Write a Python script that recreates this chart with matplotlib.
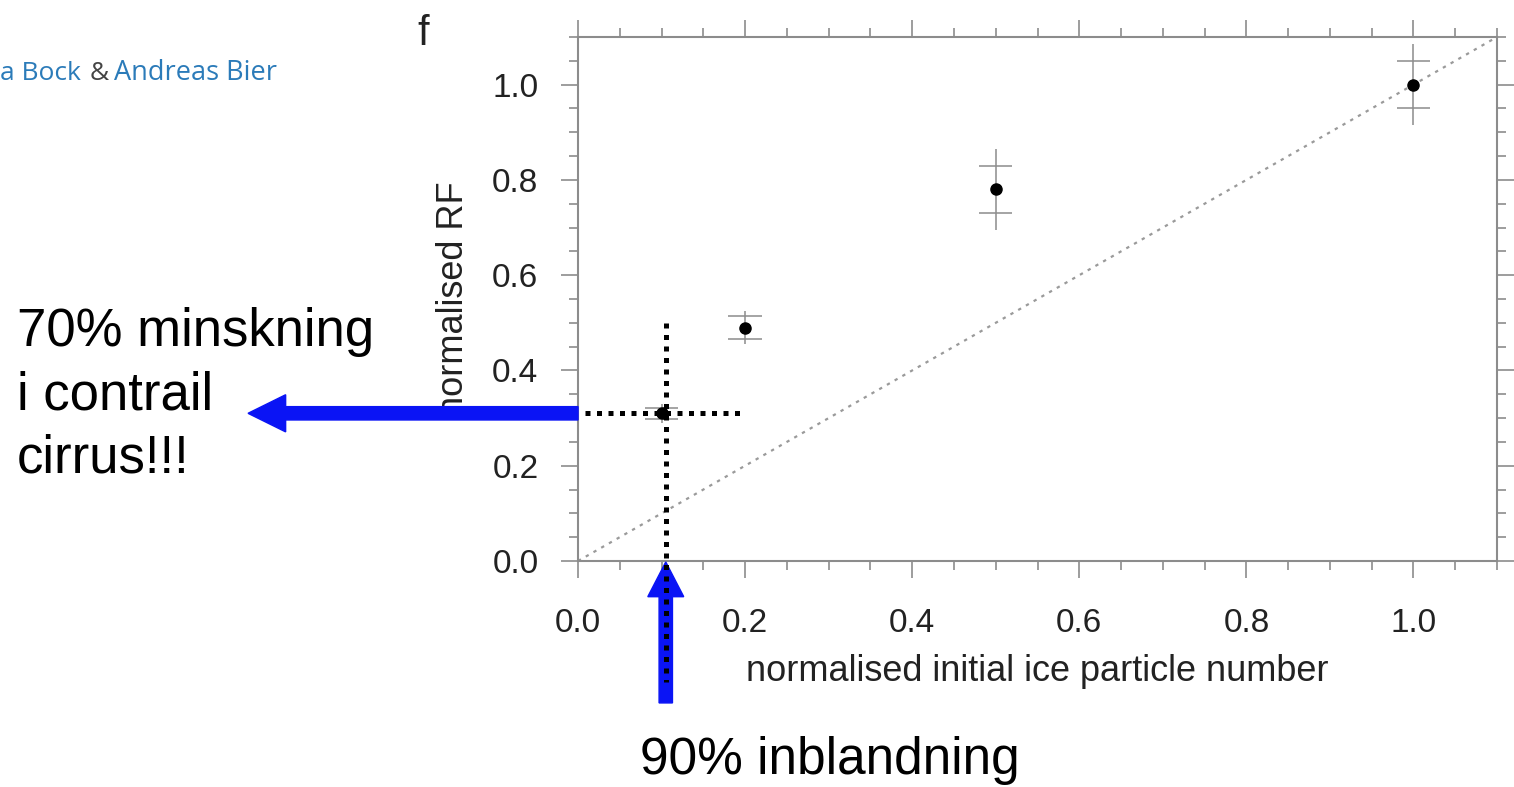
import numpy as np
import matplotlib.pyplot as plt
from matplotlib.patches import FancyArrow, Rectangle
from matplotlib.ticker import MultipleLocator

plt.rcParams['font.family'] = ['Liberation Sans', 'DejaVu Sans']

# data
ice_number = [0.1, 0.2, 0.5, 1.0]
rf_norm = [0.31, 0.49, 0.78, 1.0]
rf_std = [0.012, 0.025, 0.05, 0.05]      # short horizontal bars
rf_range = [0.02, 0.035, 0.085, 0.085]   # vertical whiskers

# annotation values
mix_x = 0.105
mix_rf = 0.31

grey = '#8c8c8c'

fig = plt.figure(figsize=(15.14, 7.87), dpi=100)
ax = fig.add_axes([0.3818, 0.2872, 0.607, 0.6658])

# 1:1 reference line
ax.plot([0, 1.1], [0, 1.1], color='#9a9a9a', lw=1.6, ls=(0, (1.5, 2.5)))

# error bars: whisker plus two short bars
x = np.array(ice_number)
y = np.array(rf_norm)
ax.vlines(x, y - np.array(rf_range), y + np.array(rf_range), color=grey, lw=1.1)
ax.hlines(y - np.array(rf_std), x - 0.02, x + 0.02, color=grey, lw=1.1)
ax.hlines(y + np.array(rf_std), x - 0.02, x + 0.02, color=grey, lw=1.1)
ax.plot(x, y, 'o', color='black', ms=8, zorder=5)

ax.set_xlim(0, 1.1)
ax.set_ylim(0, 1.1)
ax.xaxis.set_major_locator(MultipleLocator(0.2))
ax.yaxis.set_major_locator(MultipleLocator(0.2))
ax.xaxis.set_minor_locator(MultipleLocator(0.05))
ax.yaxis.set_minor_locator(MultipleLocator(0.05))
ax.xaxis.set_major_formatter(lambda v, p: f'{v:.1f}')
ax.yaxis.set_major_formatter(lambda v, p: f'{v:.1f}')
ax.tick_params(which='both', direction='out', top=True, right=True,
               color=grey, width=1.2, labelsize=24, labelcolor='#222222')
ax.tick_params(axis='x', pad=21)
ax.tick_params(axis='y', pad=16)
ax.tick_params(which='major', length=12.5)
ax.tick_params(which='minor', length=6.5)
for s in ax.spines.values():
    s.set_color(grey)
    s.set_linewidth(1.5)

ax.set_xlabel('normalised initial ice particle number', fontsize=26, color='#222222', labelpad=11)
ax.set_ylabel('normalised RF', fontsize=26, color='#222222', labelpad=15)

# slide overlay: dotted guide lines
ax.plot([mix_x, mix_x], [0.5, -0.255], color='black', lw=3.6, ls=(0, (1, 1.3)),
        clip_on=False, zorder=8)
ax.plot([0.008, 0.196], [mix_rf, mix_rf], color='black', lw=3.6, ls=(0, (1, 1.3)),
        clip_on=False, zorder=8)

# white patch hiding the rest of the y label (as on the slide)
ax.add_patch(Rectangle((0.27, 0.40), 0.05, 0.077, transform=fig.transFigure,
                       color='white', clip_on=False, zorder=4))

# blue arrows
ax.add_patch(FancyArrow(0.0, mix_rf, -0.395, 0, width=0.028, head_width=0.078,
                        head_length=0.045, length_includes_head=True,
                        color='#0a14f5', clip_on=False, zorder=7))
ax.add_patch(FancyArrow(mix_x, -0.298, 0, 0.296, width=0.016, head_width=0.043,
                        head_length=0.073, length_includes_head=True,
                        color='#0a14f5', clip_on=False, zorder=7))

# panel letter
fig.text(0.276, 0.943, 'f', fontsize=30, color='#222222')

# author line (partly cut off on the slide)
name_font = ['Open Sans', 'DejaVu Sans']
fig.text(0.0, 0.898, 'a Bock', fontsize=19, color='#2b7bb9', family=name_font)
fig.text(90 / 1514, 0.898, '&', fontsize=19, color='#444444', family=name_font)
fig.text(114 / 1514, 0.898, 'Andreas Bier', fontsize=19.5, color='#2b7bb9', family=name_font)

# swedish annotations
left_lines = ['70% minskning', 'i contrail', 'cirrus!!!']
for i, line in enumerate(left_lines):
    fig.text(0.011, 1 - (346 + 63 * i) / 787, line, fontsize=38, va='baseline')
fig.text(0.548, 1 - 774 / 787, '90% inblandning', fontsize=37, ha='center', va='baseline')

fig.savefig('out.png', dpi=100)
